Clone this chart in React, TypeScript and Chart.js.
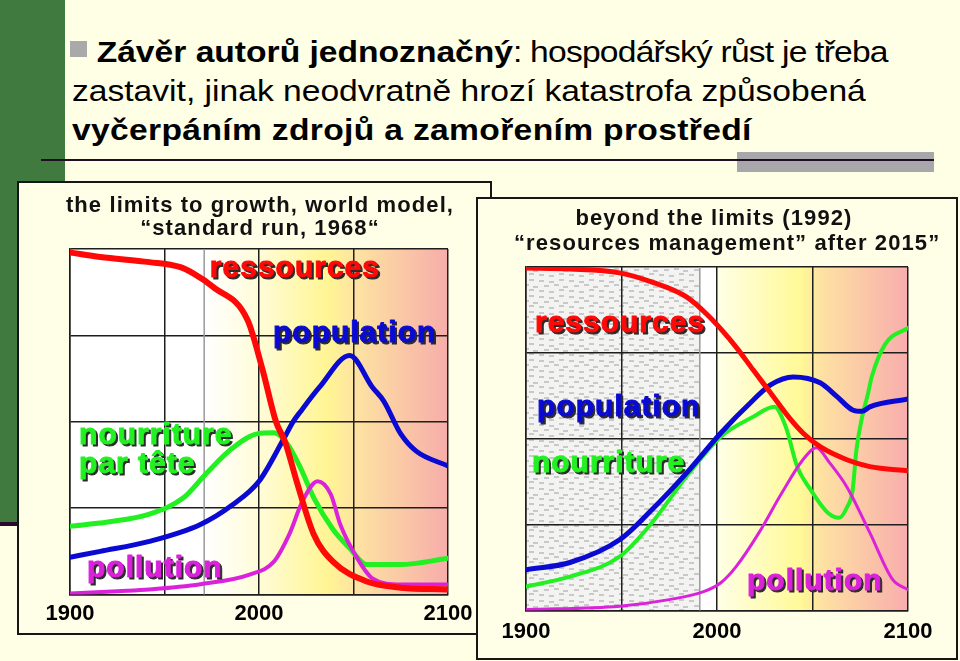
import React, { useEffect, useRef } from 'react';
import { Chart, registerables } from 'chart.js';

Chart.register(...registerables);

const FONT = '"Liberation Sans", Arial, Helvetica, sans-serif';

// ---------- shared axis ----------
const yearMin = 1900;
const yearMax = 2100;
const yearStep = 50;
const tickLabelYears = [1900, 2000, 2100];

// ---------- chart 1: "the limits to growth", standard run 1968 ----------
const ltgTitle = ['the limits to growth, world model,', '\u201Cstandard run, 1968\u201C'];
const ltgNowYear = 1971;

const ltgResourcesYears = [1900, 1916, 1942, 1958, 1965, 1976, 1994, 2002, 2009, 2014, 2020, 2029, 2039, 2057, 2075, 2100];
const ltgResourcesValues = [99, 97.7, 96.2, 94.8, 93, 88.9, 79.4, 64.8, 50, 43.9, 32.6, 17.4, 9.6, 3.8, 2, 1.5];

const ltgPopulationYears = [1900, 1916, 1942, 1969, 1986, 2000, 2013, 2018, 2022, 2032, 2048, 2060, 2066, 2075, 2083, 2100];
const ltgPopulationValues = [10.8, 12.5, 15.4, 20.3, 26, 32.8, 45, 50, 53, 60, 69.2, 60, 56, 46.5, 41.6, 37.2];

const ltgFoodYears = [1900, 1920, 1942, 1960, 1972, 1986, 1999, 2008, 2015, 2022, 2029, 2039, 2048, 2057, 2075, 2100];
const ltgFoodValues = [19.8, 21, 23.3, 28, 35, 42.4, 46.5, 46.8, 43.6, 36.6, 28, 19, 13.4, 8.7, 8.7, 10.5];

const ltgPollutionYears = [1900, 1925, 1942, 1969, 1995, 2008, 2016, 2023, 2031, 2038, 2043, 2052, 2060, 2075, 2100];
const ltgPollutionValues = [0.3, 1, 1.5, 3, 5.8, 9.6, 17.4, 27, 32.8, 29, 20.3, 10.5, 4.7, 2.9, 2.9];

// ---------- chart 2: "beyond the limits" 1992 ----------
const btlTitle = ['beyond the limits (1992)', '\u201Cresources management\u201D after 2015\u201D'];
const btlNowYear = 1991;

const btlResourcesYears = [1900, 1923, 1949, 1966, 1984, 1996, 2010, 2019, 2028, 2038, 2045, 2054, 2068, 2080, 2100];
const btlResourcesValues = [99.7, 99.4, 98.3, 95.6, 91.3, 85.5, 76.7, 70, 63.4, 56, 51.7, 47.7, 43.9, 41.9, 40.7];

const btlPopulationYears = [1900, 1923, 1949, 1966, 1984, 2002, 2019, 2028, 2040, 2054, 2063, 2071, 2076, 2080, 2100];
const btlPopulationValues = [11.9, 14, 20.6, 29.4, 40, 51.7, 61.3, 65.7, 68, 66.3, 62.2, 58.4, 58, 59.3, 61.6];

const btlFoodYears = [1900, 1923, 1949, 1966, 1984, 2002, 2019, 2030, 2036, 2042, 2049, 2058, 2064, 2068, 2071, 2073, 2076, 2079, 2081, 2088, 2100];
const btlFoodValues = [7, 9.9, 15.7, 25.6, 39, 50.6, 56.4, 59.3, 53.5, 41.9, 35.2, 28.5, 27, 30, 35, 46.8, 56.4, 63, 68, 77.5, 82.3];

const btlPollutionYears = [1900, 1949, 1975, 1993, 2002, 2010, 2022, 2034, 2045, 2052, 2059, 2068, 2080, 2092, 2100];
const btlPollutionValues = [0.3, 1.3, 3.2, 5.5, 8.1, 12.8, 22.7, 34.3, 43.9, 47.4, 43, 36, 22.7, 9, 6.1];

// ---------- colours ----------
const RED = '#FF0808';
const BLUE = '#0A0AD2';
const GREEN = '#22F022';
const MAGENTA = '#DA22DA';

type Series = { name: string; years: number[]; values: number[]; color: string; width: number };
type CurveLabel = { text: string; year: number; value: number; color: string };

const ltgSeries: Series[] = [
  { name: 'ressources', years: ltgResourcesYears, values: ltgResourcesValues, color: RED, width: 6 },
  { name: 'pollution', years: ltgPollutionYears, values: ltgPollutionValues, color: MAGENTA, width: 4 },
  { name: 'population', years: ltgPopulationYears, values: ltgPopulationValues, color: BLUE, width: 5 },
  { name: 'nourriture par tête', years: ltgFoodYears, values: ltgFoodValues, color: GREEN, width: 5 },
];

const btlSeries: Series[] = [
  { name: 'ressources', years: btlResourcesYears, values: btlResourcesValues, color: RED, width: 5 },
  { name: 'pollution', years: btlPollutionYears, values: btlPollutionValues, color: MAGENTA, width: 3 },
  { name: 'population', years: btlPopulationYears, values: btlPopulationValues, color: BLUE, width: 5 },
  { name: 'nourriture', years: btlFoodYears, values: btlFoodValues, color: GREEN, width: 4 },
];

const ltgLabels: CurveLabel[] = [
  { text: 'ressources', year: 1974, value: 91.9, color: RED },
  { text: 'population', year: 2007.4, value: 73, color: BLUE },
  { text: 'nourriture', year: 1904.8, value: 43.6, color: GREEN },
  { text: 'par tête', year: 1904.8, value: 35.2, color: GREEN },
  { text: 'pollution', year: 1909, value: 5.2, color: MAGENTA },
];

const btlLabels: CurveLabel[] = [
  { text: 'ressources', year: 1904.7, value: 81.1, color: RED },
  { text: 'population', year: 1905.8, value: 56.7, color: BLUE },
  { text: 'nourriture', year: 1903.1, value: 40.4, color: GREEN },
  { text: 'pollution', year: 2015.7, value: 6.1, color: MAGENTA },
];

const ltgGradient: [number, string][] = [
  [1971, '#FFFFFF'],
  [2000, '#FFFCD8'],
  [2036, '#FFF594'],
  [2052, '#FDE2A2'],
  [2100, '#F7ADAA'],
];
const btlGradient: [number, string][] = [
  [2000, '#FFFFE6'],
  [2044, '#FFF996'],
  [2054, '#FEE2A2'],
  [2100, '#F8ADAD'],
];

function makeBgPlugin(gradStops: [number, string][], nowYear: number, stipple: boolean) {
  let pattern: CanvasPattern | null = null;
  return {
    id: 'slideBackground',
    beforeDraw(chart: any) {
      const { ctx, chartArea: a, scales } = chart;
      const x = scales.x;
      ctx.save();
      ctx.fillStyle = '#FFFFFF';
      ctx.fillRect(a.left, a.top, a.right - a.left, a.bottom - a.top);
      const xNow = x.getPixelForValue(nowYear);
      if (stipple) {
        if (!pattern) {
          const c = document.createElement('canvas');
          c.width = 30;
          c.height = 16;
          const g = c.getContext('2d')!;
          g.fillStyle = '#F3F3F1';
          g.fillRect(0, 0, 30, 16);
          g.fillStyle = '#C9C9C9';
          const dashes = [[1, 1], [11, 2], [21, 0], [6, 6], [16, 5], [25, 7], [1, 11], [11, 12], [21, 10]];
          for (const [dx, dy] of dashes) g.fillRect(dx, dy, 5, 2);
          pattern = ctx.createPattern(c, 'repeat');
        }
        ctx.fillStyle = pattern;
        ctx.fillRect(a.left, a.top, xNow - a.left, a.bottom - a.top);
      }
      const start = gradStops[0][0];
      const end = gradStops[gradStops.length - 1][0];
      const g0 = x.getPixelForValue(start);
      const g1 = x.getPixelForValue(end);
      const grad = ctx.createLinearGradient(g0, 0, g1, 0);
      for (const [yr, col] of gradStops) grad.addColorStop((yr - start) / (end - start), col);
      ctx.fillStyle = grad;
      ctx.fillRect(g0, a.top, a.right - g0, a.bottom - a.top);
      ctx.restore();
    },
    beforeDatasetsDraw(chart: any) {
      const { ctx, chartArea: a, scales } = chart;
      const xNow = scales.x.getPixelForValue(nowYear);
      ctx.save();
      ctx.strokeStyle = '#9A9A9A';
      ctx.lineWidth = 1.5;
      ctx.beginPath();
      ctx.moveTo(xNow, a.top);
      ctx.lineTo(xNow, a.bottom);
      ctx.stroke();
      ctx.restore();
    },
  };
}

function makeLabelPlugin(labels: CurveLabel[]) {
  return {
    id: 'curveLabels',
    afterDatasetsDraw(chart: any) {
      const { ctx, scales } = chart;
      ctx.save();
      ctx.font = `bold 30px ${FONT}`;
      (ctx as any).letterSpacing = '1px';
      ctx.textBaseline = 'alphabetic';
      ctx.textAlign = 'left';
      ctx.lineJoin = 'round';
      for (const l of labels) {
        const px = scales.x.getPixelForValue(l.year);
        const py = scales.y.getPixelForValue(l.value);
        ctx.fillStyle = '#2B2B2B';
        ctx.strokeStyle = '#2B2B2B';
        ctx.lineWidth = 1;
        ctx.strokeText(l.text, px + 2, py + 2);
        ctx.fillText(l.text, px + 2, py + 2);
        ctx.fillStyle = l.color;
        ctx.strokeStyle = l.color;
        ctx.lineWidth = 1;
        ctx.strokeText(l.text, px, py);
        ctx.fillText(l.text, px, py);
      }
      ctx.restore();
    },
  };
}

type ChartProps = {
  width: number;
  height: number;
  series: Series[];
  labels: CurveLabel[];
  gradStops: [number, string][];
  nowYear: number;
  stipple: boolean;
  padding: { left: number; right: number; top: number; bottom: number };
  tickPadding: number;
};

function LimitsChart(p: ChartProps) {
  const ref = useRef<HTMLCanvasElement>(null);
  useEffect(() => {
    const gridColor = '#1E1E1E';
    const chart = new Chart(ref.current!, {
      type: 'line',
      data: {
        datasets: p.series.map((s) => ({
          label: s.name,
          data: s.years.map((yr, i) => ({ x: yr, y: s.values[i] })),
          borderColor: s.color,
          backgroundColor: s.color,
          borderWidth: s.width,
          pointRadius: 0,
          fill: false,
          cubicInterpolationMode: 'monotone' as const,
          borderCapStyle: 'round' as const,
          borderJoinStyle: 'round' as const,
        })),
      },
      options: {
        responsive: false,
        animation: false,
        layout: { padding: p.padding },
        plugins: {
          legend: { display: false },
          tooltip: { enabled: false },
          title: { display: false },
        },
        scales: {
          x: {
            type: 'linear',
            min: yearMin,
            max: yearMax,
            ticks: {
              stepSize: yearStep,
              autoSkip: false,
              maxRotation: 0,
              padding: p.tickPadding,
              color: '#000000',
              font: { family: FONT, size: 22, weight: 'bold' },
              callback: (v: any) => (tickLabelYears.includes(Number(v)) ? String(v) : ''),
            },
            grid: { color: gridColor, lineWidth: 1.5, drawTicks: false },
            border: { color: gridColor, width: 1.5 },
          },
          y: {
            type: 'linear',
            min: 0,
            max: 100,
            ticks: { display: false, stepSize: 25 },
            grid: { color: gridColor, lineWidth: 1.5, drawTicks: false },
            border: { color: gridColor, width: 1.5 },
          },
        },
      } as any,
      plugins: [makeBgPlugin(p.gradStops, p.nowYear, p.stipple), makeLabelPlugin(p.labels)],
    });
    return () => chart.destroy();
  }, []);
  return (
    <canvas
      ref={ref}
      width={p.width}
      height={p.height}
      style={{ position: 'absolute', left: 0, top: 0, width: p.width, height: p.height, display: 'block' }}
    />
  );
}

const boxStyle = (left: number, top: number, w: number, h: number): React.CSSProperties => ({
  position: 'absolute',
  left,
  top,
  width: w,
  height: h,
  boxSizing: 'border-box',
  border: '2px solid #161616',
  background: '#FFFFE8',
});

const titleStyle = (left: number, top: number, w: number, lh: number): React.CSSProperties => ({
  position: 'absolute',
  left,
  top,
  width: w,
  textAlign: 'center',
  fontFamily: FONT,
  fontWeight: 'bold',
  fontSize: 22,
  lineHeight: `${lh}px`,
  letterSpacing: '1.1px',
  color: '#111111',
  whiteSpace: 'nowrap',
});

export default function App() {
  return (
    <div
      style={{
        position: 'fixed',
        left: 0,
        top: 0,
        width: 960,
        height: 661,
        overflow: 'hidden',
        background: '#FFFFE6',
        fontFamily: FONT,
      }}
    >
      {/* green side band */}
      <div style={{ position: 'absolute', left: 0, top: 0, width: 65, height: 522, background: '#407A3F' }} />
      <div style={{ position: 'absolute', left: 0, top: 522, width: 65, height: 4, background: '#2A0A2A' }} />

      {/* bullet */}
      <div style={{ position: 'absolute', left: 70, top: 41, width: 17, height: 16, background: '#A9A9A9' }} />

      {/* heading text */}
      <div
        style={{
          position: 'absolute',
          left: 72,
          top: 32,
          width: 900,
          fontSize: 30,
          lineHeight: '39px',
          color: '#000000',
          transform: 'scaleX(1.12)',
          transformOrigin: 'left top',
          whiteSpace: 'nowrap',
        }}
      >
        <div style={{ paddingLeft: 22 }}>
          <b>Závěr autorů jednoznačný</b>
          <span style={{ letterSpacing: '-0.7px' }}>: hospodářský růst je třeba</span>
        </div>
        <div>zastavit, jinak neodvratně hrozí katastrofa způsobená</div>
        <div>
          <b style={{ letterSpacing: '0.3px' }}>vyčerpáním zdrojů a zamořením prostředí</b>
        </div>
      </div>

      {/* rule */}
      <div style={{ position: 'absolute', left: 737, top: 152, width: 197, height: 20, background: '#A8A8AC' }} />
      <div style={{ position: 'absolute', left: 41, top: 159, width: 893, height: 2, background: '#1E0E22' }} />

      {/* chart 1 */}
      <div style={boxStyle(17, 181, 475, 454)}>
        <LimitsChart
          width={471}
          height={450}
          series={ltgSeries}
          labels={ltgLabels}
          gradStops={ltgGradient}
          nowYear={ltgNowYear}
          stipple={false}
          padding={{ left: 51, right: 42, top: 66, bottom: 0 }}
          tickPadding={6}
        />
      </div>
      <div style={titleStyle(60, 193, 400, 23)}>
        {ltgTitle.map((t) => (
          <div key={t}>{t}</div>
        ))}
      </div>

      {/* chart 2 */}
      <div style={boxStyle(476, 197, 482, 463)}>
        <LimitsChart
          width={478}
          height={459}
          series={btlSeries}
          labels={btlLabels}
          gradStops={btlGradient}
          nowYear={btlNowYear}
          stipple={true}
          padding={{ left: 48, right: 48, top: 68, bottom: 5 }}
          tickPadding={8}
        />
      </div>
      <div style={titleStyle(514, 205, 400, 25)}>
        {btlTitle.map((t) => (
          <div key={t}>{t}</div>
        ))}
      </div>
    </div>
  );
}
